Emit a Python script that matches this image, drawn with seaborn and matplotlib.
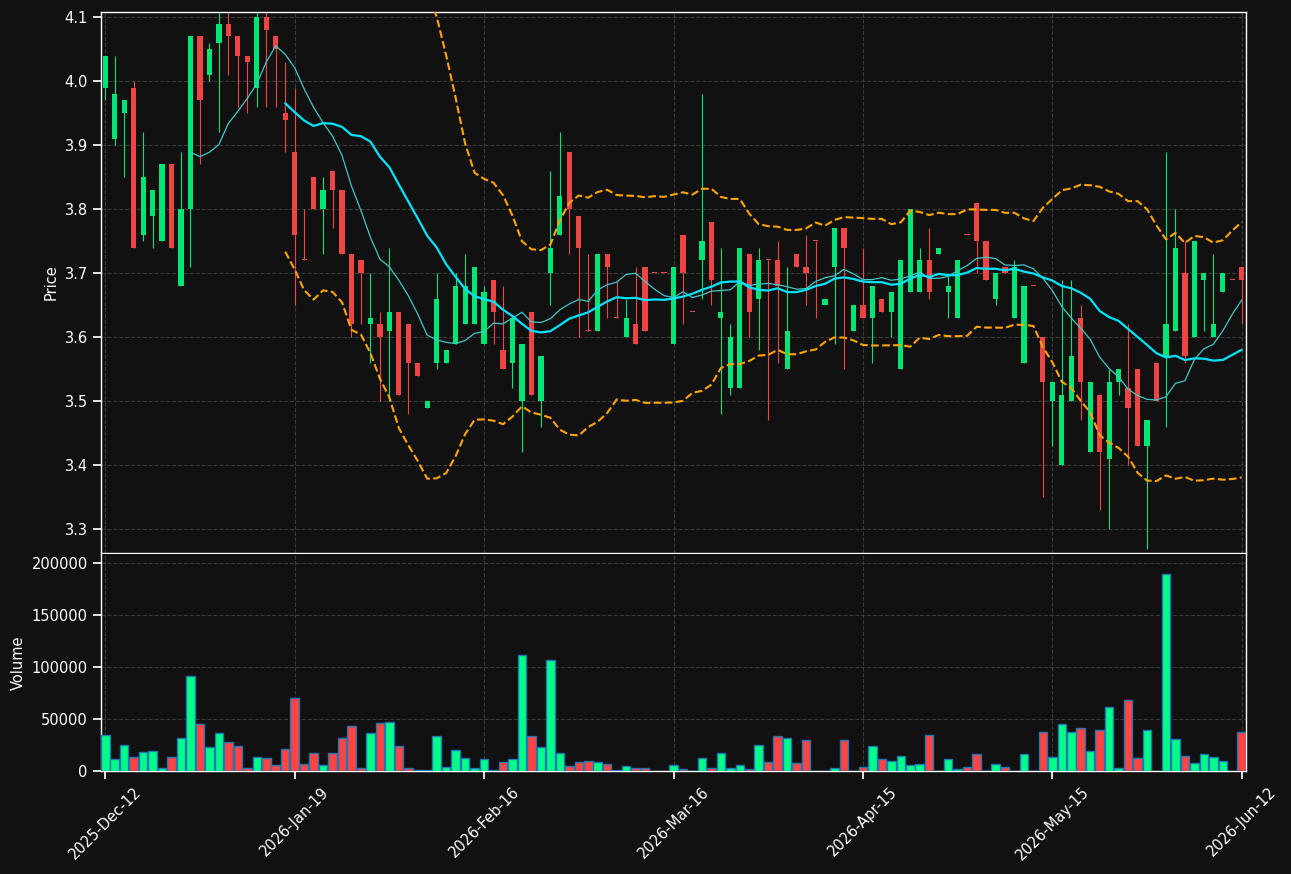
## Candlestick chart with MA10 / MA20 / Bollinger bands and volume panel
import numpy as np
import pandas as pd
import matplotlib
matplotlib.use('Agg')
import matplotlib.pyplot as plt
import seaborn as sns

## Trading calendar (business days minus exchange holidays)
holidays = ['2025-12-24', '2025-12-25', '2025-12-26', '2025-12-31', '2026-01-01',
            '2026-01-02', '2026-04-03', '2026-04-06', '2026-05-01', '2026-05-14']
dates = pd.bdate_range('2025-12-12', '2026-06-12', freq='C', holidays=holidays)

## OHLC values
opens  = [3.99, 3.91, 3.95, 3.99, 3.76, 3.79, 3.75, 3.87, 3.68, 3.80,
          4.07, 4.01, 4.06, 4.09, 4.07, 4.04, 3.99, 4.10, 4.07, 3.95,
          3.89, 3.72, 3.85, 3.80, 3.86, 3.83, 3.73, 3.72, 3.62, 3.62,
          3.61, 3.64, 3.62, 3.56, 3.49, 3.56, 3.56, 3.59, 3.62, 3.62,
          3.59, 3.69, 3.58, 3.56, 3.50, 3.64, 3.50, 3.70, 3.76, 3.89,
          3.79, 3.61, 3.61, 3.73, 3.63, 3.60, 3.62, 3.71, 3.70, 3.70,
          3.59, 3.76, 3.64, 3.72, 3.78, 3.63, 3.52, 3.52, 3.73, 3.66,
          3.72, 3.72, 3.55, 3.73, 3.71, 3.75, 3.65, 3.71, 3.77, 3.61,
          3.65, 3.63, 3.66, 3.64, 3.55, 3.67, 3.67, 3.72, 3.73, 3.67,
          3.63, 3.76, 3.81, 3.75, 3.66, 3.71, 3.63, 3.56, 3.68, 3.60,
          3.50, 3.40, 3.50, 3.63, 3.42, 3.51, 3.41, 3.53, 3.52, 3.55,
          3.43, 3.56, 3.57, 3.61, 3.70, 3.60, 3.69, 3.60, 3.67, 3.69,
          3.71]
highs  = [4.04, 4.04, 3.97, 4.00, 3.92, 3.83, 3.87, 3.87, 3.89, 4.07,
          4.07, 4.06, 4.11, 4.11, 4.07, 4.04, 4.11, 4.11, 4.07, 4.03,
          3.99, 3.80, 3.85, 3.85, 3.86, 3.83, 3.73, 3.72, 3.70, 3.64,
          3.74, 3.64, 3.62, 3.56, 3.50, 3.70, 3.58, 3.70, 3.73, 3.71,
          3.68, 3.69, 3.68, 3.63, 3.59, 3.64, 3.57, 3.86, 3.92, 3.89,
          3.79, 3.73, 3.73, 3.73, 3.69, 3.66, 3.71, 3.71, 3.70, 3.70,
          3.71, 3.76, 3.64, 3.98, 3.78, 3.74, 3.62, 3.74, 3.73, 3.74,
          3.72, 3.75, 3.71, 3.73, 3.76, 3.75, 3.66, 3.77, 3.77, 3.65,
          3.74, 3.68, 3.66, 3.67, 3.72, 3.80, 3.74, 3.77, 3.74, 3.70,
          3.72, 3.76, 3.81, 3.75, 3.70, 3.71, 3.72, 3.68, 3.68, 3.60,
          3.53, 3.69, 3.69, 3.65, 3.53, 3.51, 3.55, 3.55, 3.62, 3.55,
          3.47, 3.56, 3.89, 3.80, 3.75, 3.75, 3.70, 3.73, 3.70, 3.69,
          3.71]
lows   = [3.97, 3.90, 3.85, 3.74, 3.75, 3.74, 3.75, 3.74, 3.68, 3.71,
          3.87, 4.00, 3.92, 4.01, 3.96, 3.95, 3.96, 3.96, 3.96, 3.89,
          3.65, 3.72, 3.80, 3.73, 3.77, 3.73, 3.60, 3.62, 3.56, 3.50,
          3.50, 3.51, 3.48, 3.54, 3.49, 3.55, 3.56, 3.59, 3.62, 3.62,
          3.59, 3.59, 3.55, 3.52, 3.42, 3.51, 3.46, 3.65, 3.76, 3.73,
          3.60, 3.61, 3.61, 3.63, 3.63, 3.60, 3.59, 3.61, 3.70, 3.70,
          3.59, 3.62, 3.64, 3.66, 3.65, 3.48, 3.51, 3.52, 3.60, 3.58,
          3.47, 3.56, 3.55, 3.71, 3.65, 3.63, 3.65, 3.59, 3.55, 3.61,
          3.63, 3.56, 3.64, 3.60, 3.55, 3.67, 3.67, 3.66, 3.73, 3.63,
          3.63, 3.76, 3.70, 3.69, 3.65, 3.70, 3.63, 3.56, 3.68, 3.35,
          3.43, 3.40, 3.50, 3.47, 3.42, 3.33, 3.30, 3.51, 3.40, 3.43,
          3.27, 3.50, 3.46, 3.61, 3.56, 3.60, 3.61, 3.60, 3.67, 3.69,
          3.62]
closes = [4.04, 3.98, 3.97, 3.74, 3.85, 3.83, 3.87, 3.74, 3.80, 4.07,
          3.97, 4.05, 4.09, 4.07, 4.04, 4.03, 4.10, 4.08, 4.05, 3.94,
          3.76, 3.72, 3.80, 3.83, 3.83, 3.73, 3.62, 3.70, 3.63, 3.60,
          3.64, 3.51, 3.56, 3.54, 3.50, 3.66, 3.58, 3.68, 3.68, 3.71,
          3.67, 3.64, 3.55, 3.63, 3.59, 3.51, 3.57, 3.74, 3.82, 3.80,
          3.74, 3.61, 3.73, 3.71, 3.63, 3.63, 3.59, 3.61, 3.70, 3.70,
          3.71, 3.70, 3.64, 3.75, 3.69, 3.64, 3.60, 3.74, 3.64, 3.72,
          3.72, 3.68, 3.61, 3.71, 3.70, 3.75, 3.66, 3.77, 3.74, 3.65,
          3.63, 3.68, 3.64, 3.67, 3.72, 3.80, 3.72, 3.67, 3.74, 3.68,
          3.72, 3.76, 3.75, 3.69, 3.70, 3.70, 3.71, 3.68, 3.68, 3.53,
          3.53, 3.51, 3.57, 3.53, 3.53, 3.42, 3.53, 3.55, 3.49, 3.43,
          3.47, 3.50, 3.62, 3.74, 3.57, 3.75, 3.70, 3.62, 3.70, 3.69,
          3.69]
volumes = [35000, 11200, 24700, 13100, 17900, 18900, 2600, 13100, 31400, 91000,
           44900, 22800, 36200, 27600, 23700, 2600, 13100, 12200, 5400, 20800,
           69900, 6400, 17000, 5400, 17000, 31400, 42900, 2600, 36200, 45800,
           46800, 23700, 2600, 500, 600, 33300, 3500, 19900, 12200, 2600,
           11200, 500, 8300, 11200, 111200, 33300, 22800, 106400, 17000, 4500,
           8300, 9300, 8300, 6400, 500, 4500, 2600, 2600, 300, 200,
           5400, 1600, 300, 12200, 2600, 17000, 2600, 5400, 1600, 24700,
           8300, 33300, 31400, 7400, 29500, 300, 300, 2600, 29500, 300,
           3500, 23700, 11200, 9300, 14100, 5400, 6400, 34300, 300, 11200,
           1600, 3500, 16000, 300, 6400, 3500, 300, 16000, 0, 37200,
           13100, 44900, 37200, 41000, 18900, 39100, 61200, 2600, 67900, 12200,
           39100, 300, 189100, 30400, 14100, 7400, 16000, 13100, 9300, 300,
           37200]

## Styling
bg          = '#111111'
grid_col    = '#3a3a3a'
up_col      = '#00e676'
down_col    = '#ef4444'
vol_up      = '#00ff88'
vol_down    = '#ff4444'

df = pd.DataFrame({'Open': opens, 'High': highs, 'Low': lows,
                   'Close': closes, 'Volume': volumes}, index=dates)
df['x']    = np.arange(len(df))
df['MA10'] = df['Close'].rolling(10).mean()
df['MA20'] = df['Close'].rolling(20).mean()
std20      = df['Close'].rolling(20).std(ddof=0)
df['BBU']  = df['MA20'] + 2*std20
df['BBL']  = df['MA20'] - 2*std20
up         = df['Close'] > df['Open']

sns.set_theme(style='dark', rc={'axes.facecolor': bg, 'figure.facecolor': bg,
                                'axes.edgecolor': 'white', 'axes.labelcolor': 'white',
                                'xtick.color': 'white', 'ytick.color': 'white',
                                'text.color': 'white', 'grid.color': grid_col,
                                'grid.linestyle': '--', 'grid.linewidth': 0.8,
                                'xtick.bottom': True, 'ytick.left': True})
plt.rcParams['font.family'] = ['DejaVu Sans']

fig = plt.figure(figsize=(12.91, 8.74), dpi=100)
ax1 = fig.add_axes([101/1291, 321/874, 1145/1291, 541/874])
ax2 = fig.add_axes([101/1291, 103/874, 1145/1291, 217/874], sharex=ax1)

## Candles
ccol = np.where(up, up_col, down_col)
ax1.vlines(df['x'], df['Low'], df['High'], colors=ccol, linewidth=0.8, zorder=2)
body = np.maximum((df['Close'] - df['Open']).abs(), 0.0015)
ax1.bar(df['x'], body, bottom=np.minimum(df['Open'], df['Close']),
        width=0.55, color=ccol, linewidth=0, zorder=3)

## Moving averages and Bollinger bands
sns.lineplot(data=df, x='x', y='MA10', ax=ax1, color='#40c8c8', linewidth=0.9,
             estimator=None, zorder=4)
sns.lineplot(data=df, x='x', y='MA20', ax=ax1, color='#00e5ff', linewidth=1.6,
             estimator=None, zorder=4)
for col in ['BBU', 'BBL']:
    sns.lineplot(data=df, x='x', y=col, ax=ax1, color='orange', linewidth=1.5,
                 linestyle='--', estimator=None, zorder=4)

## Volume
vcol = np.where(up, vol_up, vol_down)
ax2.bar(df['x'], df['Volume'], width=0.9, color=vcol, edgecolor='#1f77b4',
        linewidth=1.0, zorder=3)

## Axes customization
ticks = list(range(0, len(df), 20))
ax1.set_xlim(-0.45, len(df) - 0.55)
ax1.set_ylim(3.263, 4.108)
ax1.set_yticks(np.arange(3.3, 4.11, 0.1))
ax1.set_yticklabels(['%.1f' % v for v in np.arange(3.3, 4.11, 0.1)], fontsize=10.5)
ax1.set_ylabel('Price', fontsize=10.5)
ax1.set_xlabel('')
ax1.tick_params(axis='x', bottom=False, labelbottom=False)
ax1.grid(True, axis='both')

ax2.set_ylim(0, max(volumes)*1.103)
ax2.set_yticks([0, 50000, 100000, 150000, 200000])
ax2.set_yticklabels(['0', '50000', '100000', '150000', '200000'], fontsize=10.5)
ax2.set_ylabel('Volume', fontsize=10.5)
ax2.set_xticks(ticks)
ax2.set_xticklabels([dates[i].strftime('%Y-%b-%d') for i in ticks],
                    rotation=45, fontsize=10.5)
ax2.grid(True, axis='both')

for ax in [ax1, ax2]:
    for sp in ax.spines.values():
        sp.set_color('white')
        sp.set_linewidth(1.0)
ax2.spines['top'].set_visible(False)

fig.savefig('out.png', dpi=100, facecolor=bg)
